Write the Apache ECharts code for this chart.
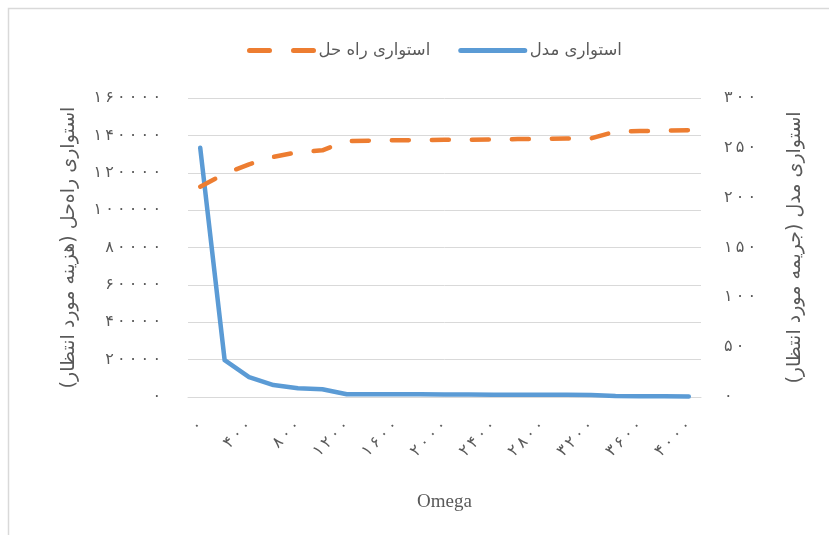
<!DOCTYPE html>
<html>
<head>
<meta charset="utf-8">
<script src="https://cdn.jsdelivr.net/npm/echarts@6/dist/echarts.min.js"></script>
<style>
  html, body { margin: 0; padding: 0; background: #fff; }
  #chart { width: 829px; height: 535px; }
</style>
</head>
<body>
<div id="chart"></div>
<script>
// Omega values (x categories)
const omega = [0, 200, 400, 600, 800, 1000, 1200, 1400, 1600, 1800, 2000,
               2200, 2400, 2600, 2800, 3000, 3200, 3400, 3600, 3800, 4000];

// Solution robustness: expected cost (left axis)
const solutionRobustness = [112500, 119500, 124500, 128500, 131000, 132000, 137000,
                            137200, 137400, 137500, 137600, 137700, 137800, 138000,
                            138200, 138300, 138400, 142000, 142300, 142500, 142800];

// Model robustness: expected penalty (right axis)
const modelRobustness = [250, 37, 20, 12, 8.7, 7.7, 2.8, 2.8, 2.8, 2.7, 2.5, 2.5,
                         2.3, 2.3, 2.2, 2.2, 2.0, 1.0, 0.8, 0.7, 0.6];

const seriesNames = ['استواری راه حل', 'استواری مدل'];
const leftAxisName = 'استواری راه‌حل (هزینه مورد انتظار)';
const rightAxisName = 'استواری مدل (جریمه مورد انتظار)';
const xAxisName = 'Omega';

// Persian digits, loosely spaced like the original number format
const persianDigits = ['۰', '۱', '۲', '۳', '۴', '۵', '۶', '۷', '۸', '۹'];
const toPersian = v => String(v).split('').map(d => persianDigits[+d]).join('\u2009');

const faFont = '"DejaVu Sans", "Noto Sans", sans-serif';
const textGray = '#595959';
const orange = '#ed7d31';
const blue = '#5b9bd5';

const chart = echarts.init(document.getElementById('chart'), null, { renderer: 'canvas' });

chart.setOption({
  backgroundColor: '#fff',
  animation: false,
  graphic: [{
    type: 'rect',
    shape: { x: 8.5, y: 8.5, width: 900, height: 900 },
    style: { fill: 'none', stroke: '#d9d9d9', lineWidth: 1.5 },
    silent: true
  }],
  grid: { left: 188, right: 128, top: 98, bottom: 138 },
  legend: {
    top: 37,
    left: 242,
    itemWidth: 64,
    itemHeight: 14,
    itemGap: 28,
    itemStyle: { opacity: 0 },
    textStyle: { fontFamily: faFont, fontSize: 16.5, color: textGray },
    data: [
      { name: seriesNames[0], lineStyle: { color: orange, width: 5, type: [20, 24], cap: 'round' } },
      { name: seriesNames[1], lineStyle: { color: blue, width: 5, type: 'solid', cap: 'round' } }
    ]
  },
  xAxis: {
    type: 'category',
    data: omega,
    boundaryGap: true,
    name: xAxisName,
    nameLocation: 'middle',
    nameGap: 96,
    nameTextStyle: { fontFamily: '"Liberation Serif", serif', fontSize: 19, color: textGray },
    axisLine: { show: true, lineStyle: { color: '#d9d9d9', width: 1 } },
    axisTick: { show: false },
    axisLabel: {
      interval: 1,
      rotate: 45,
      margin: 26,
      fontFamily: faFont,
      fontSize: 16,
      color: textGray,
      formatter: v => toPersian(v)
    },
    splitLine: { show: false }
  },
  yAxis: [{
    type: 'value',
    min: 0,
    max: 160000,
    interval: 20000,
    position: 'left',
    name: leftAxisName,
    nameLocation: 'middle',
    nameRotate: 90,
    nameGap: 109,
    nameTextStyle: { fontFamily: faFont, fontSize: 19, color: textGray },
    axisLine: { show: false },
    axisTick: { show: false },
    axisLabel: { margin: 27, fontFamily: faFont, fontSize: 16, color: textGray, formatter: v => toPersian(v) },
    splitLine: { show: true, lineStyle: { color: '#d9d9d9', width: 1 } }
  }, {
    type: 'value',
    min: 0,
    max: 300,
    interval: 50,
    position: 'right',
    name: rightAxisName,
    nameLocation: 'middle',
    nameRotate: 90,
    nameGap: 85,
    nameTextStyle: { fontFamily: faFont, fontSize: 19, color: textGray },
    axisLine: { show: false },
    axisTick: { show: false },
    axisLabel: { margin: 23, fontFamily: faFont, fontSize: 16, color: textGray, formatter: v => toPersian(v) },
    splitLine: { show: false }
  }],
  series: [{
    name: seriesNames[0],
    type: 'line',
    yAxisIndex: 0,
    data: solutionRobustness,
    symbol: 'none',
    smooth: false,
    color: orange,
    lineStyle: { color: orange, width: 4.5, type: [17, 23], cap: 'round', join: 'round' },
    z: 3
  }, {
    name: seriesNames[1],
    type: 'line',
    yAxisIndex: 1,
    data: modelRobustness,
    symbol: 'none',
    smooth: false,
    color: blue,
    lineStyle: { color: blue, width: 4.5, cap: 'round', join: 'round' },
    z: 2
  }]
});
</script>
</body>
</html>
